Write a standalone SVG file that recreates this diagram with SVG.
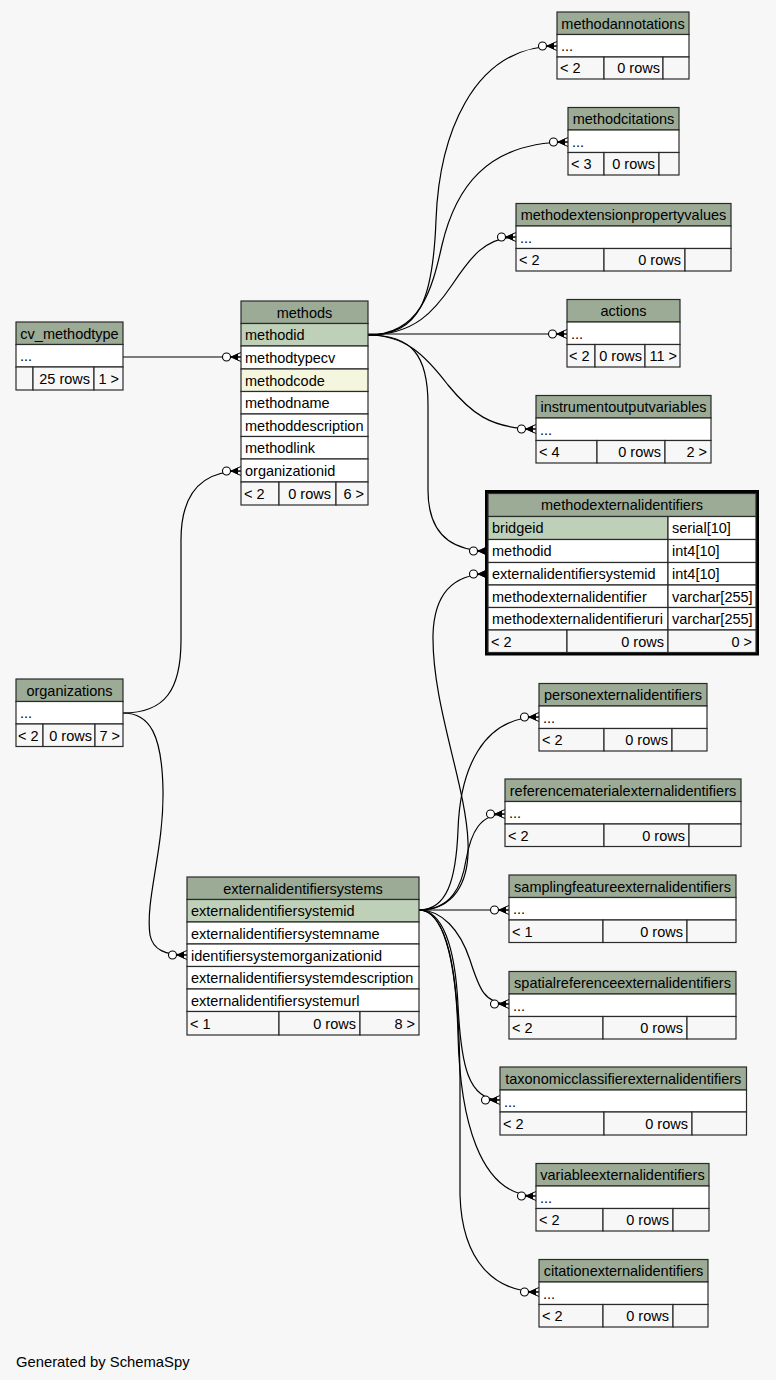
<svg xmlns="http://www.w3.org/2000/svg" width="776" height="1380" viewBox="0 0 776 1380">
<defs>
<style>
.hd{fill:#9bab96;stroke:#2a2a2a;stroke-width:1.2}
.pk{fill:#bed1b8;stroke:#2a2a2a;stroke-width:1.2}
.ix{fill:#f4f7dd;stroke:#2a2a2a;stroke-width:1.2}
.rw{fill:#ffffff;stroke:#2a2a2a;stroke-width:1.2}
.ft{fill:#f7f7f7;stroke:#2a2a2a;stroke-width:1.2}
text{font-family:"Liberation Sans",Arial,Helvetica,sans-serif;font-size:14.5px;fill:#000}
.c{text-anchor:middle}
.r{text-anchor:end}
.ln{fill:none;stroke:#000;stroke-width:1.2;marker-end:url(#crow)}
</style>
<marker id="crow" markerUnits="userSpaceOnUse" viewBox="-22 -8 24 16" refX="0" refY="0" markerWidth="24" markerHeight="16" orient="auto" overflow="visible">
<circle cx="-14.5" cy="0" r="4" fill="#fff" stroke="#000" stroke-width="1.1"/>
<polygon points="-10,0 -3,-3.6 -3,3.6" fill="#000"/>
<path d="M-10,0 L0,-4.5 M-10,0 L0,0 M-10,0 L0,4.5" stroke="#000" stroke-width="1" fill="none"/>
</marker>
</defs>
<rect x="0" y="0" width="776" height="1380" fill="#f7f7f7"/>

<g id="connectors">
<path class="ln" d="M123,357 L241,357"/>
<path class="ln" d="M123,713 C165,713 181,690 181,640 L181,540 C181,495 200,471 241,471"/>
<path class="ln" d="M123,713 C150,713 162,735 163,790 C164,850 145,900 150,935 C153,950 165,955 187,955"/>
<path class="ln" d="M368,335 C420,335 433,300 436,220 C439,140 470,46 557,46"/>
<path class="ln" d="M368,335 C420,335 432,290 442,245 C455,190 485,142 568,142"/>
<path class="ln" d="M368,335 C415,335 435,310 452,285 C470,258 485,237 516,237"/>
<path class="ln" d="M368,334 L567,334"/>
<path class="ln" d="M368,335 C405,335 425,355 448,385 C470,412 490,429 536,429"/>
<path class="ln" d="M368,335 C412,335 428,355 428,405 L428,490 C428,530 448,551 488,551"/>
<path class="ln" d="M419,910 C452,910 470,885 468,842 C466,785 432,705 433,635 C434,598 450,574 488,574"/>
<path class="ln" d="M419,910 C447,910 456,880 458,830 C460,770 482,717 539,717"/>
<path class="ln" d="M419,910 C452,910 462,885 466,860 C471,832 480,814 505,814"/>
<path class="ln" d="M419,910 L509,910"/>
<path class="ln" d="M419,910 C442,910 460,930 470,960 C479,988 484,1004 509,1004"/>
<path class="ln" d="M419,910 C442,910 455,945 458,1005 C461,1065 468,1100 500,1100"/>
<path class="ln" d="M419,910 C442,910 456,955 458,1035 C460,1115 478,1196 536,1196"/>
<path class="ln" d="M419,910 C446,910 459,965 460,1080 L460,1195 C462,1262 495,1292 539,1292"/>
</g>

<g id="cv_methodtype">
<rect class="hd" x="16" y="322" width="107" height="22.5"/>
<text class="c" x="69.5" y="338.5">cv_methodtype</text>
<rect class="rw" x="16" y="344.5" width="107" height="22.5"/>
<text x="20" y="361">...</text>
<rect class="ft" x="16" y="367" width="17" height="23"/>
<rect class="ft" x="33" y="367" width="61" height="23"/>
<rect class="ft" x="94" y="367" width="29" height="23"/>
<text class="r" x="90" y="384">25 rows</text>
<text class="r" x="119" y="384">1 &gt;</text>
</g>

<g id="methods">
<rect class="hd" x="241" y="301" width="127" height="22.5"/>
<text class="c" x="304.5" y="317.5">methods</text>
<rect class="pk" x="241" y="323.5" width="127" height="22.5"/>
<text x="245" y="340">methodid</text>
<rect class="rw" x="241" y="346" width="127" height="23"/>
<text x="245" y="362.5">methodtypecv</text>
<rect class="ix" x="241" y="369" width="127" height="22.5"/>
<text x="245" y="385.5">methodcode</text>
<rect class="rw" x="241" y="391.5" width="127" height="22.5"/>
<text x="245" y="408">methodname</text>
<rect class="rw" x="241" y="414" width="127" height="22.5"/>
<text x="245" y="430.5">methoddescription</text>
<rect class="rw" x="241" y="436.5" width="127" height="22.5"/>
<text x="245" y="453">methodlink</text>
<rect class="rw" x="241" y="459" width="127" height="23"/>
<text x="245" y="475.5">organizationid</text>
<rect class="ft" x="241" y="482" width="38" height="23"/>
<rect class="ft" x="279" y="482" width="57" height="23"/>
<rect class="ft" x="336" y="482" width="32" height="23"/>
<text x="244" y="498.5">&lt; 2</text>
<text class="r" x="331" y="498.5">0 rows</text>
<text class="r" x="364" y="498.5">6 &gt;</text>
</g>

<g id="organizations">
<rect class="hd" x="16" y="679" width="107" height="22.5"/>
<text class="c" x="69.5" y="695.5">organizations</text>
<rect class="rw" x="16" y="701.5" width="107" height="22.5"/>
<text x="20" y="718">...</text>
<rect class="ft" x="16" y="724" width="27" height="22.5"/>
<rect class="ft" x="43" y="724" width="52" height="22.5"/>
<rect class="ft" x="95" y="724" width="28" height="22.5"/>
<text x="18" y="740.5">&lt; 2</text>
<text class="r" x="92" y="740.5">0 rows</text>
<text class="r" x="120" y="740.5">7 &gt;</text>
</g>

<g id="methodannotations">
<rect class="hd" x="557" y="12" width="132" height="22.5"/>
<text class="c" x="623" y="28.5">methodannotations</text>
<rect class="rw" x="557" y="34.5" width="132" height="22.5"/>
<text x="561" y="51">...</text>
<rect class="ft" x="557" y="57" width="47" height="22"/>
<rect class="ft" x="604" y="57" width="59" height="22"/>
<rect class="ft" x="663" y="57" width="26" height="22"/>
<text x="560" y="73">&lt; 2</text>
<text class="r" x="660" y="73">0 rows</text>
</g>

<g id="methodcitations">
<rect class="hd" x="568" y="107.5" width="111" height="22.5"/>
<text class="c" x="623.5" y="124">methodcitations</text>
<rect class="rw" x="568" y="130" width="111" height="22.5"/>
<text x="572" y="146.5">...</text>
<rect class="ft" x="568" y="152.5" width="36" height="22.5"/>
<rect class="ft" x="604" y="152.5" width="55" height="22.5"/>
<rect class="ft" x="659" y="152.5" width="20" height="22.5"/>
<text x="571" y="169">&lt; 3</text>
<text class="r" x="655" y="169">0 rows</text>
</g>

<g id="methodextensionpropertyvalues">
<rect class="hd" x="516" y="203.5" width="215" height="22.5"/>
<text class="c" x="623.5" y="220">methodextensionpropertyvalues</text>
<rect class="rw" x="516" y="226" width="215" height="22.5"/>
<text x="520" y="242.5">...</text>
<rect class="ft" x="516" y="248.5" width="88" height="22.5"/>
<rect class="ft" x="604" y="248.5" width="81" height="22.5"/>
<rect class="ft" x="685" y="248.5" width="46" height="22.5"/>
<text x="519" y="265">&lt; 2</text>
<text class="r" x="681" y="265">0 rows</text>
</g>

<g id="actions">
<rect class="hd" x="567" y="299.5" width="113" height="22.5"/>
<text class="c" x="623.5" y="316">actions</text>
<rect class="rw" x="567" y="322" width="113" height="22.5"/>
<text x="571" y="338.5">...</text>
<rect class="ft" x="567" y="344.5" width="28" height="22.5"/>
<rect class="ft" x="595" y="344.5" width="50" height="22.5"/>
<rect class="ft" x="645" y="344.5" width="35" height="22.5"/>
<text x="569" y="361">&lt; 2</text>
<text class="r" x="642" y="361">0 rows</text>
<text class="r" x="677" y="361">11 &gt;</text>
</g>

<g id="instrumentoutputvariables">
<rect class="hd" x="536" y="395.5" width="175" height="22.5"/>
<text class="c" x="623.5" y="412">instrumentoutputvariables</text>
<rect class="rw" x="536" y="418" width="175" height="22.5"/>
<text x="540" y="434.5">...</text>
<rect class="ft" x="536" y="440.5" width="61" height="22.5"/>
<rect class="ft" x="597" y="440.5" width="68" height="22.5"/>
<rect class="ft" x="665" y="440.5" width="46" height="22.5"/>
<text x="539" y="457">&lt; 4</text>
<text class="r" x="661" y="457">0 rows</text>
<text class="r" x="707" y="457">2 &gt;</text>
</g>

<g id="methodexternalidentifiers">
<rect x="486.5" y="491.5" width="271" height="162.5" fill="none" stroke="#000" stroke-width="3"/>
<rect class="hd" x="488" y="493.5" width="268" height="23"/>
<text class="c" x="622" y="510">methodexternalidentifiers</text>
<rect class="pk" x="488" y="516.5" width="180" height="23"/>
<rect class="rw" x="668" y="516.5" width="88" height="23"/>
<text x="492" y="533">bridgeid</text>
<text x="672" y="533">serial[10]</text>
<rect class="rw" x="488" y="539.5" width="180" height="23"/>
<rect class="rw" x="668" y="539.5" width="88" height="23"/>
<text x="492" y="556">methodid</text>
<text x="672" y="556">int4[10]</text>
<rect class="rw" x="488" y="562.5" width="180" height="22.5"/>
<rect class="rw" x="668" y="562.5" width="88" height="22.5"/>
<text x="492" y="579">externalidentifiersystemid</text>
<text x="672" y="579">int4[10]</text>
<rect class="rw" x="488" y="585" width="180" height="22.5"/>
<rect class="rw" x="668" y="585" width="88" height="22.5"/>
<text x="492" y="601.5">methodexternalidentifier</text>
<text x="672" y="601.5">varchar[255]</text>
<rect class="rw" x="488" y="607.5" width="180" height="22.5"/>
<rect class="rw" x="668" y="607.5" width="88" height="22.5"/>
<text x="492" y="624">methodexternalidentifieruri</text>
<text x="672" y="624">varchar[255]</text>
<rect class="ft" x="488" y="630" width="79" height="22.5"/>
<rect class="ft" x="567" y="630" width="101" height="22.5"/>
<rect class="ft" x="668" y="630" width="88" height="22.5"/>
<text x="491" y="646.5">&lt; 2</text>
<text class="r" x="664" y="646.5">0 rows</text>
<text class="r" x="752" y="646.5">0 &gt;</text>
</g>

<g id="externalidentifiersystems">
<rect class="hd" x="187" y="877" width="232" height="22.5"/>
<text class="c" x="303" y="893.5">externalidentifiersystems</text>
<rect class="pk" x="187" y="899.5" width="232" height="22.5"/>
<text x="191" y="916">externalidentifiersystemid</text>
<rect class="rw" x="187" y="922" width="232" height="22"/>
<text x="191" y="938.5">externalidentifiersystemname</text>
<rect class="rw" x="187" y="944" width="232" height="22.5"/>
<text x="191" y="960.5">identifiersystemorganizationid</text>
<rect class="rw" x="187" y="966.5" width="232" height="22.5"/>
<text x="191" y="983">externalidentifiersystemdescription</text>
<rect class="rw" x="187" y="989" width="232" height="22.5"/>
<text x="191" y="1005.5">externalidentifiersystemurl</text>
<rect class="ft" x="187" y="1011.5" width="92" height="23.5"/>
<rect class="ft" x="279" y="1011.5" width="81" height="23.5"/>
<rect class="ft" x="360" y="1011.5" width="59" height="23.5"/>
<text x="190" y="1028.5">&lt; 1</text>
<text class="r" x="356" y="1028.5">0 rows</text>
<text class="r" x="415" y="1028.5">8 &gt;</text>
</g>

<g id="personexternalidentifiers">
<rect class="hd" x="539" y="683.5" width="168" height="22.5"/>
<text class="c" x="623" y="700">personexternalidentifiers</text>
<rect class="rw" x="539" y="706" width="168" height="22.5"/>
<text x="543" y="722.5">...</text>
<rect class="ft" x="539" y="728.5" width="65" height="22.5"/>
<rect class="ft" x="604" y="728.5" width="68" height="22.5"/>
<rect class="ft" x="672" y="728.5" width="35" height="22.5"/>
<text x="542" y="745">&lt; 2</text>
<text class="r" x="668" y="745">0 rows</text>
</g>

<g id="referencematerialexternalidentifiers">
<rect class="hd" x="505" y="779" width="236" height="22.5"/>
<text class="c" x="623" y="795.5">referencematerialexternalidentifiers</text>
<rect class="rw" x="505" y="801.5" width="236" height="22.5"/>
<text x="509" y="818">...</text>
<rect class="ft" x="505" y="824" width="99" height="22.5"/>
<rect class="ft" x="604" y="824" width="85" height="22.5"/>
<rect class="ft" x="689" y="824" width="52" height="22.5"/>
<text x="508" y="840.5">&lt; 2</text>
<text class="r" x="685" y="840.5">0 rows</text>
</g>

<g id="samplingfeatureexternalidentifiers">
<rect class="hd" x="509" y="875" width="227" height="22.5"/>
<text class="c" x="622.5" y="891.5">samplingfeatureexternalidentifiers</text>
<rect class="rw" x="509" y="897.5" width="227" height="22.5"/>
<text x="513" y="914">...</text>
<rect class="ft" x="509" y="920" width="94" height="22.5"/>
<rect class="ft" x="603" y="920" width="84" height="22.5"/>
<rect class="ft" x="687" y="920" width="49" height="22.5"/>
<text x="512" y="936.5">&lt; 1</text>
<text class="r" x="683" y="936.5">0 rows</text>
</g>

<g id="spatialreferenceexternalidentifiers">
<rect class="hd" x="509" y="971.5" width="227" height="22.5"/>
<text class="c" x="622.5" y="988">spatialreferenceexternalidentifiers</text>
<rect class="rw" x="509" y="994" width="227" height="22.5"/>
<text x="513" y="1010.5">...</text>
<rect class="ft" x="509" y="1016.5" width="94" height="22.5"/>
<rect class="ft" x="603" y="1016.5" width="84" height="22.5"/>
<rect class="ft" x="687" y="1016.5" width="49" height="22.5"/>
<text x="512" y="1033">&lt; 2</text>
<text class="r" x="683" y="1033">0 rows</text>
</g>

<g id="taxonomicclassifierexternalidentifiers">
<rect class="hd" x="500" y="1067" width="246.5" height="23"/>
<text class="c" x="623.25" y="1083.5">taxonomicclassifierexternalidentifiers</text>
<rect class="rw" x="500" y="1090" width="246.5" height="22"/>
<text x="504" y="1106.5">...</text>
<rect class="ft" x="500" y="1112" width="104" height="23"/>
<rect class="ft" x="604" y="1112" width="88" height="23"/>
<rect class="ft" x="692" y="1112" width="54.5" height="23"/>
<text x="503" y="1128.5">&lt; 2</text>
<text class="r" x="688" y="1128.5">0 rows</text>
</g>

<g id="variableexternalidentifiers">
<rect class="hd" x="536" y="1163.5" width="173" height="22.5"/>
<text class="c" x="622.5" y="1180">variableexternalidentifiers</text>
<rect class="rw" x="536" y="1186" width="173" height="22.5"/>
<text x="540" y="1202.5">...</text>
<rect class="ft" x="536" y="1208.5" width="67" height="22.5"/>
<rect class="ft" x="603" y="1208.5" width="70" height="22.5"/>
<rect class="ft" x="673" y="1208.5" width="36" height="22.5"/>
<text x="539" y="1225">&lt; 2</text>
<text class="r" x="669" y="1225">0 rows</text>
</g>

<g id="citationexternalidentifiers">
<rect class="hd" x="539" y="1259.5" width="169" height="22.5"/>
<text class="c" x="623.5" y="1276">citationexternalidentifiers</text>
<rect class="rw" x="539" y="1282" width="169" height="22.5"/>
<text x="543" y="1298.5">...</text>
<rect class="ft" x="539" y="1304.5" width="64" height="22.5"/>
<rect class="ft" x="603" y="1304.5" width="70" height="22.5"/>
<rect class="ft" x="673" y="1304.5" width="35" height="22.5"/>
<text x="542" y="1321">&lt; 2</text>
<text class="r" x="669" y="1321">0 rows</text>
</g>

<text x="16" y="1367" style="font-size:14.8px">Generated by SchemaSpy</text>
</svg>
